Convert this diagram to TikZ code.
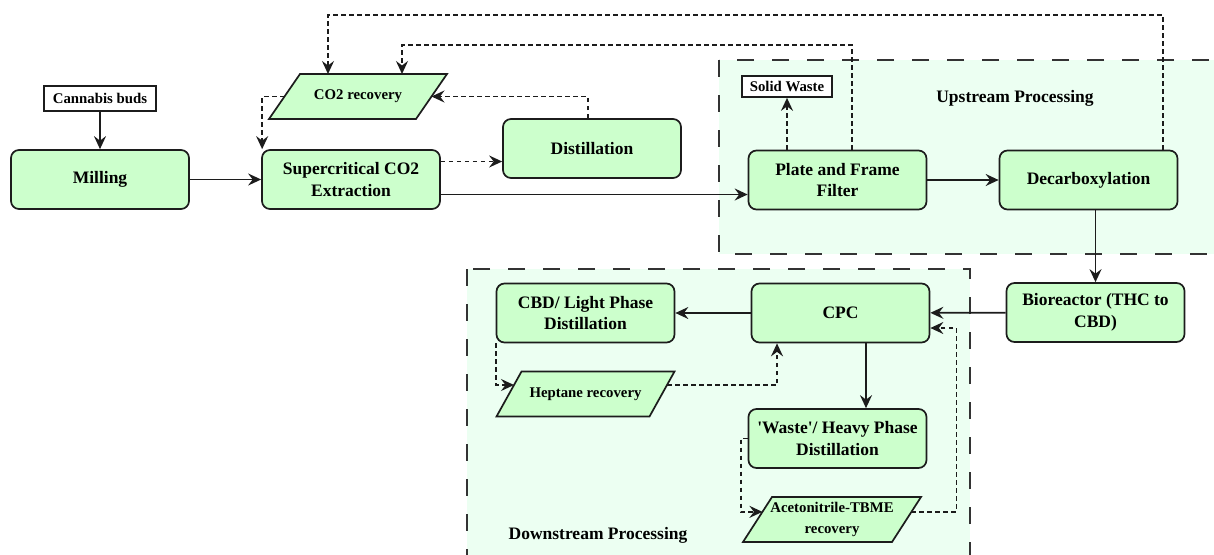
\documentclass[tikz,border=0pt]{standalone}
\usepackage{fontspec}
\setmainfont{Liberation Serif}
\usetikzlibrary{arrows.meta,calc}
\definecolor{boxfill}{RGB}{204,255,204}
\definecolor{zonefill}{RGB}{236,255,242}
\definecolor{edge}{RGB}{28,28,28}
\newcommand{\bigfs}{\fontsize{17.5}{21.5}\selectfont\bfseries}
\newcommand{\smallfs}{\fontsize{14.8}{21}\selectfont\bfseries}
% slanted input/output box: name, centre x, centre y, slant, text
\newcommand{\ioshape}[5]{%
  \coordinate (#1-tl) at ({#2-89+#4},{#3-22.5});
  \coordinate (#1-tr) at ({#2+89},{#3-22.5});
  \coordinate (#1-br) at ({#2+89-#4},{#3+22.5});
  \coordinate (#1-bl) at ({#2-89},{#3+22.5});
  \coordinate (#1-l) at ($(#1-tl)!0.5!(#1-bl)$);
  \coordinate (#1-r) at ($(#1-tr)!0.5!(#1-br)$);
  \path[iofill] (#1-tl) -- (#1-tr) -- (#1-br) -- (#1-bl) -- cycle;
  \node[iotext] (#1) at (#2,#3) {#5};
}

\begin{document}
\begin{tikzpicture}[x=1pt,y=-1pt,
  proc/.style={draw=edge, line width=1.7pt, fill=boxfill, rounded corners=8pt,
    minimum width=178pt, minimum height=59pt, align=center, font=\bigfs, inner sep=1pt},
  iofill/.style={draw=edge, line width=1.7pt, fill=boxfill, line join=miter},
  iotext/.style={align=center, font=\smallfs, inner sep=1pt},
  tagbox/.style={draw=edge, line width=1.7pt, fill=white, font=\smallfs, inner sep=0pt},
  zone/.style={draw=edge!90, line width=2pt, dash pattern=on 17pt off 18pt, fill=zonefill},
  flow/.style={draw=edge, line width=1.7pt, -{Stealth[length=13pt,width=12pt,inset=4.5pt]}},
  ret/.style={flow, dash pattern=on 4.5pt off 3.5pt},
  title/.style={font=\bigfs, inner sep=0pt}]
\useasboundingbox (0,0) rectangle (1214,554);

% processing zones
\path[zone] (719,60) rectangle (1225,254);
\path[zone] (467,269) rectangle (970,565);
\node[title] (upt) at (1015,98) {Upstream Processing};
\node[title] (dnt) at (598,535) {Downstream Processing};

% process steps
\node[tagbox, minimum width=112pt, minimum height=25pt] (buds) at (100,98.5) {Cannabis buds};
\node[proc] (mill) at (100,179.5) {Milling};
\node[proc] (scx) at (351,179.5) {Supercritical CO2\\Extraction};
\ioshape{co2}{358}{96.5}{31}{CO2 recovery}
\node[proc] (dist) at (592,148.5) {Distillation};
\node[proc] (pf) at (837.5,180) {Plate and Frame\\Filter};
\node[proc] (dec) at (1088.5,180) {Decarboxylation};
\node[tagbox, minimum width=90pt, minimum height=21pt] (sw) at (787,86.5) {Solid Waste};
\node[proc] (bio) at (1095.5,312.5) {Bioreactor (THC to\\CBD)};
\node[proc] (cpc) at (840.5,313) {CPC};
\node[proc] (cbd) at (585.5,313) {CBD/ Light Phase\\Distillation};
\ioshape{hep}{585.5}{394}{25}{Heptane recovery}
\node[proc] (waste) at (837.5,438.5) {\textquotesingle Waste\textquotesingle/ Heavy Phase\\Distillation};
\ioshape{acn}{832}{519.5}{29}{Acetonitrile-TBME\\recovery}

% bend points
\coordinate (r1) at (1163,15);
\coordinate (r2) at (328,15);
\coordinate (s1) at (852,45);
\coordinate (s2) at (402,45);
\coordinate (u1) at (588,96.5);
\coordinate (a1) at ([yshift=18pt]scx.east);
\coordinate (a2) at ([yshift=-15pt]scx.east);
\coordinate (hin) at ($(hep-tl)!0.3!(hep-bl)$);
\coordinate (hout) at ($(hep-tr)!0.3!(hep-br)$);
\coordinate (ain) at ($(acn-tl)!0.33!(acn-bl)$);
\coordinate (aout) at ($(acn-tr)!0.33!(acn-br)$);
\coordinate (cin) at ([yshift=-15pt]cpc.east);

% main flow
\draw[flow] (buds) -- (mill);
\draw[flow] (mill) -- (scx);
\draw[flow] (a2) -- (a2 -| pf.west);
\draw[flow] (pf) -- (dec);
\draw[flow] (dec.south -| bio.north) -- (bio.north);
\draw[flow] (bio) -- (cpc);
\draw[flow] (cpc) -- (cbd);
\draw[flow] ([xshift=25.5pt]cpc.south) -- ([xshift=28.5pt]waste.north);

% side streams and solvent recovery
\draw[ret] (a1) -- (a1 -| dist.west);
\draw[ret] (dist.north -| u1) -- (u1) -- (co2-r);
\draw[ret] (co2-l) -| ([xshift=1pt]scx.north west);
\draw[ret] (pf.north -| s1) -- (s1) -- (s2) -- (s2 |- co2-tl);
\draw[ret] (dec.north -| r1) -- (r1) -- (r2) -- (r2 |- co2-tl);
\draw[ret] (pf.north -| sw.south) -- (sw.south);
\draw[ret] (cbd.south west) |- (hin);
\draw[ret] (hout) -| ([xshift=-63.5pt]cpc.south);
\draw[ret] (waste.west) -- ++(-7,0) |- (ain);
\draw[ret] (aout) -- ++(45,0) |- (cin);
\end{tikzpicture}
\end{document}
